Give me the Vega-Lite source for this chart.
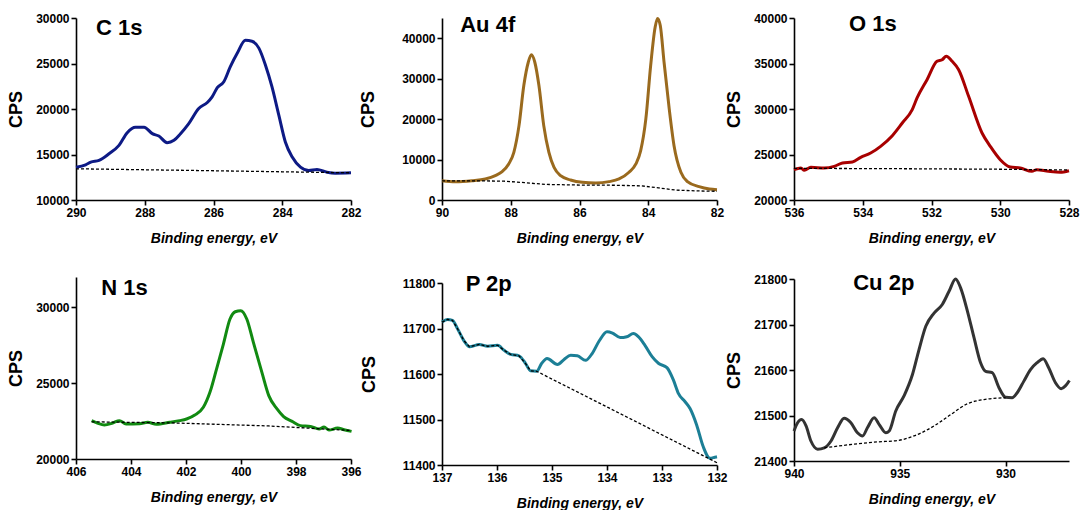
{
  "$schema": "https://vega.github.io/schema/vega-lite/v6.json",
  "background": "white",
  "padding": {"left": 7, "top": 12, "right": 0, "bottom": 0},
  "config": {
    "view": {"stroke": null},
    "numberFormat": "d",
    "font": "Liberation Sans",
    "axis": {
      "grid": false,
      "domainColor": "black",
      "domainWidth": 1.6,
      "tickColor": "black",
      "tickWidth": 1.6,
      "tickSize": 5,
      "labelFont": "Liberation Sans",
      "labelFontWeight": "bold",
      "labelFontSize": 12,
      "labelColor": "black",
      "labelPadding": 2,
      "titleFont": "Liberation Sans",
      "titleColor": "black",
      "titleFontWeight": "bold"
    },
    "axisX": {"titleFontSize": 14, "titleFontStyle": "italic", "titlePadding": 13, "labelFlush": false},
    "axisY": {"titleFontSize": 18, "titlePadding": 10, "labelFlush": false}
  },
  "datasets": {
    "c1s": [
      {"eV": 290, "cps": 13610}, {"eV": 289.72, "cps": 13870}, {"eV": 289.57, "cps": 14160}, {"eV": 289.33, "cps": 14350},
      {"eV": 289.04, "cps": 15080}, {"eV": 288.75, "cps": 16000}, {"eV": 288.51, "cps": 17400}, {"eV": 288.27, "cps": 18000},
      {"eV": 288.02, "cps": 18000}, {"eV": 287.78, "cps": 17290}, {"eV": 287.59, "cps": 17030}, {"eV": 287.35, "cps": 16300},
      {"eV": 287.15, "cps": 16560}, {"eV": 286.96, "cps": 17290}, {"eV": 286.72, "cps": 18400}, {"eV": 286.43, "cps": 20060},
      {"eV": 286.18, "cps": 20720}, {"eV": 286.04, "cps": 21340}, {"eV": 285.89, "cps": 22340}, {"eV": 285.7, "cps": 23000},
      {"eV": 285.51, "cps": 24660}, {"eV": 285.31, "cps": 26130}, {"eV": 285.07, "cps": 27550}, {"eV": 284.88, "cps": 27450},
      {"eV": 284.68, "cps": 26690}, {"eV": 284.49, "cps": 24840}, {"eV": 284.3, "cps": 22450}, {"eV": 284.1, "cps": 19320},
      {"eV": 283.91, "cps": 16370}, {"eV": 283.71, "cps": 14720}, {"eV": 283.47, "cps": 13610}, {"eV": 283.23, "cps": 13240},
      {"eV": 282.99, "cps": 13350}, {"eV": 282.7, "cps": 13060}, {"eV": 282.46, "cps": 12950}, {"eV": 282, "cps": 12990}
    ],
    "c1s_bg": [
      {"eV": 290, "cps": 13430}, {"eV": 287, "cps": 13270}, {"eV": 284, "cps": 13100}, {"eV": 282, "cps": 12990}
    ],
    "au4f": [
      {"eV": 90, "cps": 4780}, {"eV": 89.61, "cps": 4540}, {"eV": 89.13, "cps": 4780}, {"eV": 88.74, "cps": 5200},
      {"eV": 88.45, "cps": 6020}, {"eV": 88.25, "cps": 7010}, {"eV": 88.06, "cps": 8910}, {"eV": 87.91, "cps": 11800},
      {"eV": 87.76, "cps": 18390}, {"eV": 87.62, "cps": 28290}, {"eV": 87.49, "cps": 34060}, {"eV": 87.4, "cps": 35900},
      {"eV": 87.3, "cps": 34060}, {"eV": 87.18, "cps": 28290}, {"eV": 87.04, "cps": 18390}, {"eV": 86.89, "cps": 11800},
      {"eV": 86.74, "cps": 8080}, {"eV": 86.55, "cps": 6020}, {"eV": 86.26, "cps": 4950}, {"eV": 85.92, "cps": 4370},
      {"eV": 85.53, "cps": 4210}, {"eV": 85.14, "cps": 4540}, {"eV": 84.85, "cps": 5200}, {"eV": 84.56, "cps": 6850},
      {"eV": 84.36, "cps": 8910}, {"eV": 84.22, "cps": 12210}, {"eV": 84.07, "cps": 20040}, {"eV": 83.93, "cps": 33240},
      {"eV": 83.8, "cps": 42720}, {"eV": 83.73, "cps": 44900}, {"eV": 83.65, "cps": 43130}, {"eV": 83.54, "cps": 34060},
      {"eV": 83.39, "cps": 22520}, {"eV": 83.25, "cps": 13440}, {"eV": 83.05, "cps": 6850}, {"eV": 82.86, "cps": 4540},
      {"eV": 82.52, "cps": 3300}, {"eV": 82.22, "cps": 2720}, {"eV": 82, "cps": 2560}
    ],
    "au4f_bg": [
      {"eV": 90, "cps": 4750}, {"eV": 89, "cps": 4750}, {"eV": 88.2, "cps": 4650}, {"eV": 87.6, "cps": 4300},
      {"eV": 87, "cps": 3850}, {"eV": 86, "cps": 3700}, {"eV": 85, "cps": 3650}, {"eV": 84.2, "cps": 3500},
      {"eV": 83.7, "cps": 3000}, {"eV": 83.2, "cps": 2450}, {"eV": 82.6, "cps": 2250}, {"eV": 82, "cps": 2150}
    ],
    "o1s": [
      {"eV": 536, "cps": 23330}, {"eV": 535.8, "cps": 23520}, {"eV": 535.7, "cps": 23260}, {"eV": 535.51, "cps": 23590},
      {"eV": 535.12, "cps": 23520}, {"eV": 534.83, "cps": 23700}, {"eV": 534.59, "cps": 24070}, {"eV": 534.3, "cps": 24180},
      {"eV": 534.06, "cps": 24690}, {"eV": 533.77, "cps": 25160}, {"eV": 533.48, "cps": 25900}, {"eV": 533.14, "cps": 27070},
      {"eV": 532.85, "cps": 28460}, {"eV": 532.56, "cps": 29930}, {"eV": 532.42, "cps": 31210}, {"eV": 532.13, "cps": 33220},
      {"eV": 531.84, "cps": 35240}, {"eV": 531.69, "cps": 35420}, {"eV": 531.57, "cps": 35790}, {"eV": 531.4, "cps": 35240},
      {"eV": 531.21, "cps": 34320}, {"eV": 530.92, "cps": 31390}, {"eV": 530.53, "cps": 27360}, {"eV": 530.29, "cps": 25900},
      {"eV": 530, "cps": 24430}, {"eV": 529.71, "cps": 23630}, {"eV": 529.42, "cps": 23520}, {"eV": 529.08, "cps": 23150},
      {"eV": 528.94, "cps": 23330}, {"eV": 528.6, "cps": 23150}, {"eV": 528.26, "cps": 23040}, {"eV": 528, "cps": 23220}
    ],
    "o1s_bg": [
      {"eV": 536, "cps": 23480}, {"eV": 533, "cps": 23440}, {"eV": 530, "cps": 23380}, {"eV": 528, "cps": 23300}
    ],
    "n1s": [
      {"eV": 405.43, "cps": 22530}, {"eV": 405.22, "cps": 22370}, {"eV": 404.97, "cps": 22240}, {"eV": 404.67, "cps": 22370},
      {"eV": 404.42, "cps": 22530}, {"eV": 404.18, "cps": 22310}, {"eV": 403.69, "cps": 22330}, {"eV": 403.39, "cps": 22420},
      {"eV": 403.08, "cps": 22290}, {"eV": 402.59, "cps": 22420}, {"eV": 402.23, "cps": 22530}, {"eV": 401.98, "cps": 22640},
      {"eV": 401.68, "cps": 22900}, {"eV": 401.37, "cps": 23410}, {"eV": 401.13, "cps": 24400}, {"eV": 400.89, "cps": 25930},
      {"eV": 400.64, "cps": 27580}, {"eV": 400.4, "cps": 29230}, {"eV": 400.21, "cps": 29710}, {"eV": 400.01, "cps": 29780},
      {"eV": 399.79, "cps": 29230}, {"eV": 399.55, "cps": 27690}, {"eV": 399.24, "cps": 25710}, {"eV": 398.99, "cps": 24180},
      {"eV": 398.69, "cps": 23300}, {"eV": 398.45, "cps": 22790}, {"eV": 398.14, "cps": 22480}, {"eV": 397.84, "cps": 22200},
      {"eV": 397.47, "cps": 22150}, {"eV": 397.16, "cps": 21980}, {"eV": 396.98, "cps": 22110}, {"eV": 396.8, "cps": 21910},
      {"eV": 396.49, "cps": 22040}, {"eV": 396.25, "cps": 21930}, {"eV": 395.98, "cps": 21820}
    ],
    "n1s_bg": [
      {"eV": 405.43, "cps": 22450}, {"eV": 402.5, "cps": 22380}, {"eV": 399, "cps": 22180}, {"eV": 396, "cps": 21880}
    ],
    "p2p": [
      {"eV": 137, "cps": 11714}, {"eV": 136.9, "cps": 11720}, {"eV": 136.81, "cps": 11718}, {"eV": 136.72, "cps": 11700},
      {"eV": 136.6, "cps": 11673}, {"eV": 136.5, "cps": 11660}, {"eV": 136.32, "cps": 11665}, {"eV": 136.17, "cps": 11661},
      {"eV": 135.99, "cps": 11663}, {"eV": 135.87, "cps": 11652}, {"eV": 135.75, "cps": 11643}, {"eV": 135.6, "cps": 11640},
      {"eV": 135.48, "cps": 11623}, {"eV": 135.39, "cps": 11607}, {"eV": 135.28, "cps": 11606}, {"eV": 135.19, "cps": 11623},
      {"eV": 135.09, "cps": 11634}, {"eV": 134.9, "cps": 11621}, {"eV": 134.78, "cps": 11632}, {"eV": 134.66, "cps": 11641},
      {"eV": 134.54, "cps": 11640}, {"eV": 134.39, "cps": 11630}, {"eV": 134.27, "cps": 11645}, {"eV": 134.14, "cps": 11673},
      {"eV": 134, "cps": 11693}, {"eV": 133.9, "cps": 11690}, {"eV": 133.76, "cps": 11680}, {"eV": 133.64, "cps": 11682},
      {"eV": 133.52, "cps": 11689}, {"eV": 133.43, "cps": 11682}, {"eV": 133.31, "cps": 11663}, {"eV": 133.18, "cps": 11638},
      {"eV": 133.06, "cps": 11623}, {"eV": 132.91, "cps": 11614}, {"eV": 132.79, "cps": 11586}, {"eV": 132.7, "cps": 11557},
      {"eV": 132.58, "cps": 11539}, {"eV": 132.49, "cps": 11524}, {"eV": 132.37, "cps": 11488}, {"eV": 132.25, "cps": 11440},
      {"eV": 132.13, "cps": 11415}, {"eV": 132.04, "cps": 11417}, {"eV": 132, "cps": 11418}
    ],
    "p2p_bg": [
      {"eV": 137, "cps": 11714}, {"eV": 136.9, "cps": 11720}, {"eV": 136.81, "cps": 11718}, {"eV": 136.72, "cps": 11700},
      {"eV": 136.6, "cps": 11673}, {"eV": 136.5, "cps": 11660}, {"eV": 136.32, "cps": 11665}, {"eV": 136.17, "cps": 11661},
      {"eV": 135.99, "cps": 11663}, {"eV": 135.87, "cps": 11652}, {"eV": 135.75, "cps": 11643}, {"eV": 135.6, "cps": 11640},
      {"eV": 135.48, "cps": 11623}, {"eV": 135.39, "cps": 11607}, {"eV": 135.28, "cps": 11606}, {"eV": 132, "cps": 11405}
    ],
    "cu2p": [
      {"eV": 940, "cps": 21466}, {"eV": 939.83, "cps": 21484}, {"eV": 939.64, "cps": 21491}, {"eV": 939.43, "cps": 21477},
      {"eV": 939.2, "cps": 21444}, {"eV": 938.88, "cps": 21426}, {"eV": 938.57, "cps": 21429}, {"eV": 938.25, "cps": 21444},
      {"eV": 937.94, "cps": 21473}, {"eV": 937.63, "cps": 21494}, {"eV": 937.31, "cps": 21484}, {"eV": 937, "cps": 21462},
      {"eV": 936.76, "cps": 21455}, {"eV": 936.53, "cps": 21473}, {"eV": 936.21, "cps": 21495}, {"eV": 935.97, "cps": 21480},
      {"eV": 935.66, "cps": 21462}, {"eV": 935.5, "cps": 21466}, {"eV": 935.19, "cps": 21510}, {"eV": 934.8, "cps": 21543},
      {"eV": 934.4, "cps": 21590}, {"eV": 934.09, "cps": 21645}, {"eV": 933.77, "cps": 21696}, {"eV": 933.38, "cps": 21725},
      {"eV": 932.99, "cps": 21744}, {"eV": 932.67, "cps": 21773}, {"eV": 932.36, "cps": 21800}, {"eV": 932.12, "cps": 21780},
      {"eV": 931.8, "cps": 21729}, {"eV": 931.49, "cps": 21671}, {"eV": 931.18, "cps": 21616}, {"eV": 930.94, "cps": 21597},
      {"eV": 930.63, "cps": 21594}, {"eV": 930.31, "cps": 21561}, {"eV": 930, "cps": 21540}, {"eV": 929.69, "cps": 21539},
      {"eV": 929.45, "cps": 21550}, {"eV": 929.14, "cps": 21575}, {"eV": 928.82, "cps": 21601}, {"eV": 928.51, "cps": 21616},
      {"eV": 928.22, "cps": 21625}, {"eV": 927.96, "cps": 21605}, {"eV": 927.64, "cps": 21572}, {"eV": 927.37, "cps": 21559},
      {"eV": 927.17, "cps": 21565}, {"eV": 926.98, "cps": 21577}
    ],
    "cu2p_bg": [
      {"eV": 938.57, "cps": 21429}, {"eV": 937.15, "cps": 21437}, {"eV": 936.05, "cps": 21442}, {"eV": 935.11, "cps": 21445},
      {"eV": 934.33, "cps": 21455}, {"eV": 933.38, "cps": 21477}, {"eV": 932.59, "cps": 21502}, {"eV": 931.8, "cps": 21526},
      {"eV": 931.02, "cps": 21535}, {"eV": 930, "cps": 21539}
    ]
  },
  "spacing": -3,
  "hconcat": [
    {
      "bounds": "flush",
      "spacing": 77,
      "vconcat": [
        {
          "width": 275, "height": 182,
          "layer": [
            {"data": {"name": "c1s"}, "mark": {"type": "line", "color": "#0d1a85", "strokeWidth": 3, "interpolate": "monotone"},
             "encoding": {
               "x": {"field": "eV", "type": "quantitative", "title": "Binding energy, eV", "scale": {"domain": [282, 290], "reverse": true}, "axis": {"values": [290, 288, 286, 284, 282]}},
               "y": {"field": "cps", "type": "quantitative", "title": "CPS", "scale": {"domain": [10000, 30000]}, "axis": {"values": [10000, 15000, 20000, 25000, 30000]}}}},
            {"data": {"name": "c1s_bg"}, "mark": {"type": "line", "color": "black", "strokeWidth": 1.3, "strokeDash": [3, 2]},
             "encoding": {"x": {"field": "eV", "type": "quantitative", "title": "Binding energy, eV"}, "y": {"field": "cps", "type": "quantitative", "title": "CPS"}}},
            {"data": {"values": [{"label": "C 1s"}]}, "mark": {"type": "text", "align": "left", "baseline": "middle", "fontSize": 22, "fontWeight": "bold", "font": "Liberation Sans", "color": "black"},
             "encoding": {"x": {"datum": 289.42}, "y": {"datum": 28900}, "text": {"field": "label"}}}
          ]
        },
        {
          "width": 275, "height": 182,
          "layer": [
            {"data": {"name": "n1s"}, "mark": {"type": "line", "color": "#118a11", "strokeWidth": 3, "interpolate": "monotone"},
             "encoding": {
               "x": {"field": "eV", "type": "quantitative", "title": "Binding energy, eV", "scale": {"domain": [396, 406], "reverse": true}, "axis": {"values": [406, 404, 402, 400, 398, 396]}},
               "y": {"field": "cps", "type": "quantitative", "title": "CPS", "scale": {"domain": [20000, 32000]}, "axis": {"values": [20000, 25000, 30000]}}}},
            {"data": {"name": "n1s_bg"}, "mark": {"type": "line", "color": "black", "strokeWidth": 1.3, "strokeDash": [3, 2]},
             "encoding": {"x": {"field": "eV", "type": "quantitative", "title": "Binding energy, eV"}, "y": {"field": "cps", "type": "quantitative", "title": "CPS"}}},
            {"data": {"values": [{"label": "N 1s"}]}, "mark": {"type": "text", "align": "left", "baseline": "middle", "fontSize": 22, "fontWeight": "bold", "font": "Liberation Sans", "color": "black"},
             "encoding": {"x": {"datum": 405.08}, "y": {"datum": 31280}, "text": {"field": "label"}}}
          ]
        }
      ]
    },
    {
      "bounds": "flush",
      "spacing": 83,
      "vconcat": [
        {
          "width": 275, "height": 182,
          "layer": [
            {"data": {"name": "au4f"}, "mark": {"type": "line", "color": "#9a6a1e", "strokeWidth": 3, "interpolate": "monotone"},
             "encoding": {
               "x": {"field": "eV", "type": "quantitative", "title": "Binding energy, eV", "scale": {"domain": [82, 90], "reverse": true}, "axis": {"values": [90, 88, 86, 84, 82]}},
               "y": {"field": "cps", "type": "quantitative", "title": "CPS", "scale": {"domain": [0, 45000]}, "axis": {"values": [0, 10000, 20000, 30000, 40000], "titlePadding": 24}}}},
            {"data": {"name": "au4f_bg"}, "mark": {"type": "line", "color": "black", "strokeWidth": 1.3, "strokeDash": [3, 2]},
             "encoding": {"x": {"field": "eV", "type": "quantitative", "title": "Binding energy, eV"}, "y": {"field": "cps", "type": "quantitative", "title": "CPS"}}},
            {"data": {"values": [{"label": "Au 4f"}]}, "mark": {"type": "text", "align": "left", "baseline": "middle", "fontSize": 22, "fontWeight": "bold", "font": "Liberation Sans", "color": "black"},
             "encoding": {"x": {"datum": 89.47}, "y": {"datum": 43300}, "text": {"field": "label"}}}
          ]
        },
        {
          "width": 275, "height": 182,
          "layer": [
            {"data": {"name": "p2p"}, "mark": {"type": "line", "color": "#1c7f96", "strokeWidth": 3, "interpolate": "monotone"},
             "encoding": {
               "x": {"field": "eV", "type": "quantitative", "title": "Binding energy, eV", "scale": {"domain": [132, 137], "reverse": true}, "axis": {"values": [137, 136, 135, 134, 133, 132]}},
               "y": {"field": "cps", "type": "quantitative", "title": "CPS", "scale": {"domain": [11400, 11800]}, "axis": {"values": [11400, 11500, 11600, 11700, 11800], "titlePadding": 24}}}},
            {"data": {"name": "p2p_bg"}, "mark": {"type": "line", "color": "black", "strokeWidth": 1.3, "strokeDash": [3, 2]},
             "encoding": {"x": {"field": "eV", "type": "quantitative", "title": "Binding energy, eV"}, "y": {"field": "cps", "type": "quantitative", "title": "CPS"}}},
            {"data": {"values": [{"label": "P 2p"}]}, "mark": {"type": "text", "align": "left", "baseline": "middle", "fontSize": 22, "fontWeight": "bold", "font": "Liberation Sans", "color": "black"},
             "encoding": {"x": {"datum": 136.57}, "y": {"datum": 11798}, "text": {"field": "label"}}}
          ]
        }
      ]
    },
    {
      "bounds": "flush",
      "spacing": 79,
      "vconcat": [
        {
          "width": 275, "height": 182,
          "layer": [
            {"data": {"name": "o1s"}, "mark": {"type": "line", "color": "#a80000", "strokeWidth": 3, "interpolate": "monotone"},
             "encoding": {
               "x": {"field": "eV", "type": "quantitative", "title": "Binding energy, eV", "scale": {"domain": [528, 536], "reverse": true}, "axis": {"values": [536, 534, 532, 530, 528]}},
               "y": {"field": "cps", "type": "quantitative", "title": "CPS", "scale": {"domain": [20000, 40000]}, "axis": {"values": [20000, 25000, 30000, 35000, 40000]}}}},
            {"data": {"name": "o1s_bg"}, "mark": {"type": "line", "color": "black", "strokeWidth": 1.3, "strokeDash": [3, 2]},
             "encoding": {"x": {"field": "eV", "type": "quantitative", "title": "Binding energy, eV"}, "y": {"field": "cps", "type": "quantitative", "title": "CPS"}}},
            {"data": {"values": [{"label": "O 1s"}]}, "mark": {"type": "text", "align": "left", "baseline": "middle", "fontSize": 22, "fontWeight": "bold", "font": "Liberation Sans", "color": "black"},
             "encoding": {"x": {"datum": 534.4}, "y": {"datum": 39340}, "text": {"field": "label"}}}
          ]
        },
        {
          "width": 275, "height": 182,
          "layer": [
            {"data": {"name": "cu2p"}, "mark": {"type": "line", "color": "#333333", "strokeWidth": 3, "interpolate": "monotone"},
             "encoding": {
               "x": {"field": "eV", "type": "quantitative", "title": "Binding energy, eV", "scale": {"domain": [927, 940], "reverse": true}, "axis": {"values": [940, 935, 930]}},
               "y": {"field": "cps", "type": "quantitative", "title": "CPS", "scale": {"domain": [21400, 21800]}, "axis": {"values": [21400, 21500, 21600, 21700, 21800]}}}},
            {"data": {"name": "cu2p_bg"}, "mark": {"type": "line", "color": "black", "strokeWidth": 1.3, "strokeDash": [3, 2], "interpolate": "monotone"},
             "encoding": {"x": {"field": "eV", "type": "quantitative", "title": "Binding energy, eV"}, "y": {"field": "cps", "type": "quantitative", "title": "CPS"}}},
            {"data": {"values": [{"label": "Cu 2p"}]}, "mark": {"type": "text", "align": "left", "baseline": "middle", "fontSize": 22, "fontWeight": "bold", "font": "Liberation Sans", "color": "black"},
             "encoding": {"x": {"datum": 937.2}, "y": {"datum": 21792}, "text": {"field": "label"}}}
          ]
        }
      ]
    }
  ]
}
